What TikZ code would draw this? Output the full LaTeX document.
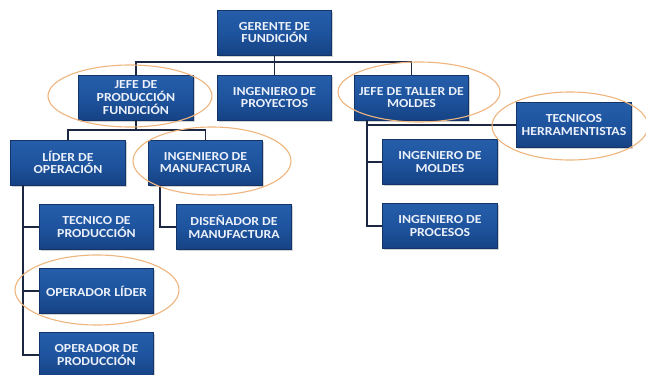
\documentclass[tikz,border=0pt]{standalone}
\usepackage{fontspec}
\setmainfont{Carlito}
\newfontfamily\boxfont[FakeStretch=1.12]{Carlito}
\usetikzlibrary{shadows,calc}
\definecolor{boxblue}{RGB}{30,84,158}
\definecolor{boxbluedark}{RGB}{22,66,132}
\definecolor{boxbluetop}{RGB}{38,94,170}
\definecolor{boxedge}{RGB}{18,52,104}
\definecolor{boxtext}{RGB}{235,240,250}
\definecolor{linecol}{RGB}{28,40,66}
\definecolor{ringcol}{RGB}{238,182,126}
\tikzset{
  orgbox/.style={rectangle, minimum width=114.5pt, minimum height=45pt,
    top color=boxbluetop, bottom color=boxbluedark, middle color=boxblue,
    draw=boxedge, line width=0.6pt, align=center, text=boxtext,
    font=\boxfont\bfseries\fontsize{12.3}{12.7}\selectfont, inner sep=1pt,
    drop shadow={shadow xshift=1.5pt, shadow yshift=-1.5pt, opacity=0.35}},
  conn/.style={draw=linecol, line width=1.8pt},
  ring/.style={draw=ringcol, line width=1.1pt}
}
\begin{document}
\begin{tikzpicture}[x=1pt,y=-1pt]
\useasboundingbox (0,0) rectangle (646,375);
\fill[white] (0,0) rectangle (646,375);
\coordinate (bar1) at (274.5,62);
\coordinate (bar2) at (136,130);
\coordinate (lv) at (23,185);
\coordinate (mv) at (160,185);
\coordinate (jv) at (367,120);
% nodes
\node[orgbox] (ger) at (274.5,32.5) {GERENTE DE\\FUNDICIÓN};
\node[orgbox] (jp) at (136,97.5) {JEFE DE\\PRODUCCIÓN\\FUNDICIÓN};
\node[orgbox] (ip) at (274.5,97.5) {INGENIERO DE\\PROYECTOS};
\node[orgbox] (jt) at (411.5,97.5) {JEFE DE TALLER DE\\MOLDES};
\node[orgbox] (tec) at (574,125) {TECNICOS\\HERRAMENTISTAS};
\node[orgbox] (lid) at (68,162.5) {LÍDER DE\\OPERACIÓN};
\node[orgbox] (im) at (205.5,162.5) {INGENIERO DE\\MANUFACTURA};
\node[orgbox] (imo) at (440,162) {INGENIERO DE\\MOLDES};
\node[orgbox] (tp) at (96.5,227) {TECNICO DE\\PRODUCCIÓN};
\node[orgbox] (dis) at (234,227) {DISEÑADOR DE\\MANUFACTURA};
\node[orgbox] (ipr) at (440,226) {INGENIERO DE\\PROCESOS};
\node[orgbox] (ol) at (96.5,291) {OPERADOR LÍDER};
\node[orgbox] (op) at (96.5,355) {OPERADOR DE\\PRODUCCIÓN};
% connectors
\draw[conn] (ger.south) -- (ip.north);
\draw[conn] (jp.north) |- (bar1) -| (jt.north);
\draw[conn] (jp.south) -- (bar2);
\draw[conn] (lid.north) |- (bar2) -| (im.north);
\draw[conn] (lv) |- (op.west);
\draw[conn] (lv |- tp.west) -- (tp.west);
\draw[conn] (lv |- ol.west) -- (ol.west);
\draw[conn] (mv) |- (dis.west);
\draw[conn] (jv) |- (ipr.west);
\draw[conn] (jv |- imo.west) -- (imo.west);
\draw[conn] (jv |- tec.west) -- (tec.west);
% highlight rings
\draw[ring] (130,96) ellipse [x radius=82, y radius=31];
\draw[ring] (212,161) ellipse [x radius=79, y radius=34];
\draw[ring] (419,92) ellipse [x radius=81, y radius=30];
\draw[ring] (570,126) ellipse [x radius=78, y radius=34];
\draw[ring] (97,290) ellipse [x radius=82, y radius=35];
\end{tikzpicture}
\end{document}
